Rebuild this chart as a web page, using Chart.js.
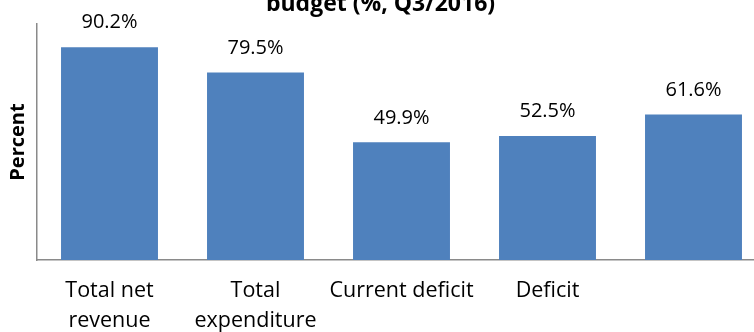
<!DOCTYPE html>
<html>
<head>
<meta charset="utf-8">
<script src="https://cdn.jsdelivr.net/npm/chart.js@4/dist/chart.umd.min.js"></script>
<style>
  html, body { margin: 0; padding: 0; background: #fff; overflow: hidden; }
  #wrap { width: 770px; height: 332px; }
</style>
</head>
<body>
<div id="wrap"><canvas id="myChart" width="770" height="332"></canvas></div>
<script>
// Budget execution, Q3/2016 (% of plan)
const categories = [
  ['Total net', 'revenue'],
  ['Total', 'expenditure'],
  'Current deficit',
  'Deficit',
  ''
];
const values = [90.2, 79.5, 49.9, 52.5, 61.6];
const titleText = 'budget (%, Q3/2016)';
const yTitle = 'Percent';

const barBlue = '#4F81BD';
const axisGrey = '#8a8a8a';

// title line sits partly above the canvas edge
const titlePlugin = {
  id: 'topTitle',
  afterDraw(chart) {
    const ctx = chart.ctx;
    ctx.save();
    ctx.font = 'bold 23px "Open Sans"';
    ctx.fillStyle = '#000';
    ctx.textAlign = 'center';
    ctx.textBaseline = 'alphabetic';
    ctx.fillText(titleText, 380.5, 10.5);
    ctx.restore();
  }
};

// percentage above each bar
const valueLabels = {
  id: 'valueLabels',
  afterDatasetsDraw(chart) {
    const ctx = chart.ctx;
    const meta = chart.getDatasetMeta(0);
    ctx.save();
    ctx.font = '20px "Open Sans"';
    ctx.fillStyle = '#000';
    ctx.textAlign = 'center';
    ctx.textBaseline = 'alphabetic';
    meta.data.forEach((bar, i) => {
      ctx.fillText(values[i].toFixed(1) + '%', bar.x, bar.y - 18.7);
    });
    ctx.restore();
  }
};

const ctx = document.getElementById('myChart').getContext('2d');
const data = {
  labels: categories,
  datasets: [
    {
      data: values,
      backgroundColor: barBlue,
      borderWidth: 0,
      categoryPercentage: 1,
      barPercentage: 0.664,
    },
  ],
};
const config = {
  type: 'bar',
  data: data,
  options: {
    responsive: false,
    animation: false,
    layout: { padding: { top: 24, right: 3.5, left: 0, bottom: 0 } },
    plugins: {
      legend: { display: false },
      tooltip: { enabled: false },
      title: { display: false },
    },
    scales: {
      x: {
        grid: { display: false, drawTicks: false },
        border: { display: true, color: axisGrey, width: 1.5 },
        ticks: {
          color: '#000',
          font: { family: 'Open Sans', size: 21.5, lineHeight: '30px' },
          padding: 16,
          maxRotation: 0,
          autoSkip: false,
        },
        afterFit: (scale) => { scale.height = 72; },
      },
      y: {
        min: 0,
        max: 100,
        grid: { display: false, drawTicks: false },
        border: { display: true, color: axisGrey, width: 1.5 },
        ticks: { display: false },
        title: {
          display: true,
          text: yTitle,
          color: '#000',
          font: { family: 'Open Sans', size: 20, weight: 'bold' },
          padding: { top: 6, bottom: 0 },
        },
        afterFit: (scale) => { scale.width = 36.5; },
      },
    },
  },
  plugins: [titlePlugin, valueLabels],
};

const myChart = new Chart(ctx, config);
</script>
</body>
</html>
